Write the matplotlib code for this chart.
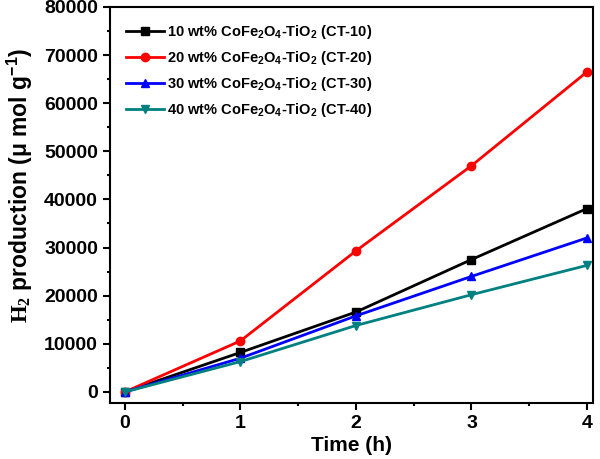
import matplotlib
matplotlib.use('Agg')
import matplotlib.pyplot as plt
from matplotlib.ticker import MultipleLocator

plt.rcParams['font.family'] = 'Liberation Sans'
plt.rcParams['font.weight'] = 'bold'
plt.rcParams['mathtext.fontset'] = 'custom'
plt.rcParams['mathtext.rm'] = 'Liberation Serif'
plt.rcParams['mathtext.bf'] = 'Liberation Sans:bold'
plt.rcParams['mathtext.it'] = 'Liberation Sans:bold'

# data
time_h = [0, 1, 2, 3, 4]
ct10 = [0, 8200, 16600, 27500, 38100]
ct20 = [0, 10600, 29300, 47000, 66500]
ct30 = [0, 7000, 15800, 24000, 32000]
ct40 = [0, 6300, 13800, 20200, 26300]

labels = [
    r'10 wt% CoFe$_\mathbf{2}$O$_\mathbf{4}$-TiO$_\mathbf{2}$ (CT-10)',
    r'20 wt% CoFe$_\mathbf{2}$O$_\mathbf{4}$-TiO$_\mathbf{2}$ (CT-20)',
    r'30 wt% CoFe$_\mathbf{2}$O$_\mathbf{4}$-TiO$_\mathbf{2}$ (CT-30)',
    r'40 wt% CoFe$_\mathbf{2}$O$_\mathbf{4}$-TiO$_\mathbf{2}$ (CT-40)',
]
colors = ['black', '#FF0000', '#0000FF', '#008080']
markers = ['s', 'o', '^', 'v']

fig = plt.figure(figsize=(6, 4.59), dpi=100)
ax = fig.add_axes([0.183, 0.122, 0.805, 0.863])

for ys, lab, c, m in zip([ct10, ct20, ct30, ct40], labels, colors, markers):
    ax.plot(time_h, ys, color=c, marker=m, markersize=6, linewidth=2, label=lab)

ax.set_xlim(-0.13, 4.05)
ax.set_ylim(-2300, 80000)
ax.xaxis.set_major_locator(MultipleLocator(1))
ax.xaxis.set_minor_locator(MultipleLocator(0.5))
ax.yaxis.set_major_locator(MultipleLocator(10000))
ax.yaxis.set_minor_locator(MultipleLocator(5000))
ax.tick_params(which='major', direction='out', length=5, width=1.5, labelsize=14)
ax.tick_params(which='minor', direction='out', length=2.5, width=1.5)
for sp in ax.spines.values():
    sp.set_linewidth(1.5)

ax.set_xlabel('Time (h)', fontsize=15, fontweight='bold', labelpad=3)
ax.set_ylabel(r'$\mathrm{H_2}$ production (μ mol g$^\mathbf{-1}$)', fontsize=16.5,
              fontweight='bold')
ax.yaxis.set_label_coords(-0.155, 0.55)

ax.legend(loc='upper left', frameon=False, handlelength=2.6,
          handletextpad=0.2, labelspacing=0.55, borderaxespad=0.7,
          prop={'weight': 'bold', 'size': 10.5})

fig.savefig('out.png', dpi=100)
